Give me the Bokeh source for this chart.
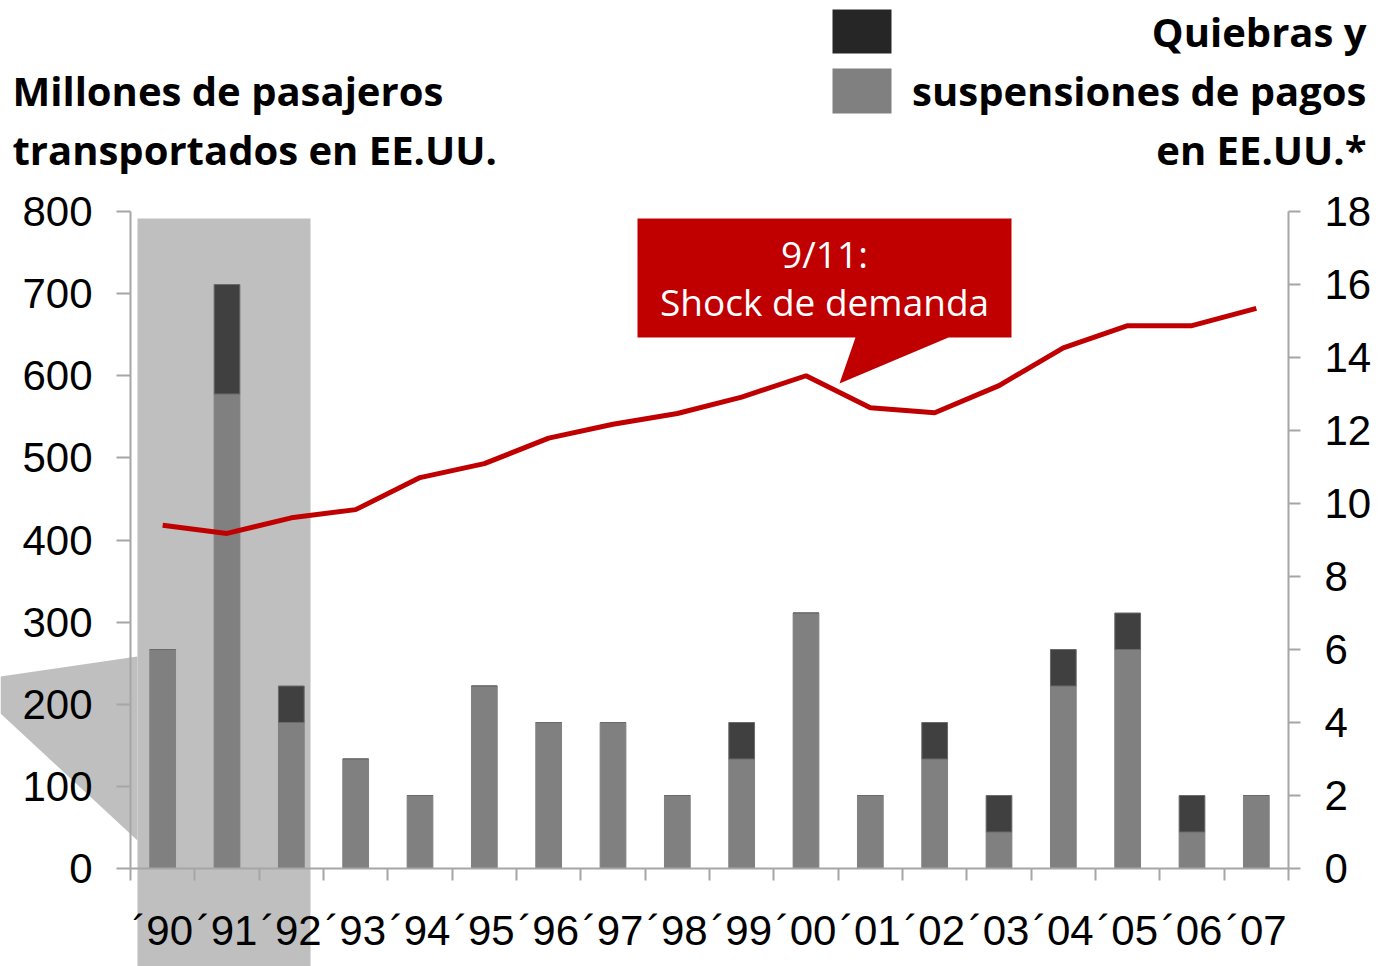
from bokeh.plotting import figure
from bokeh.models import (Range1d, LinearAxis, FixedTicker, BoxAnnotation,
                          PolyAnnotation, Label, ColumnDataSource)
from bokeh.embed import file_html
from bokeh.resources import INLINE

# ---- data ----
years = list(range(1990, 2008))
x_labels = ["´90", "´91", "´92", "´93", "´94", "´95", "´96", "´97", "´98",
            "´99", "´00", "´01", "´02", "´03", "´04", "´05", "´06", "´07"]
passengers = [418, 408, 427, 437, 476, 493, 524, 541, 554,
              574, 600, 561, 555, 588, 634, 661, 661, 682]
suspensiones = [6, 13, 4, 3, 2, 5, 4, 4, 2, 3, 7, 2, 3, 1, 5, 6, 1, 2]
quiebras = [0, 3, 1, 0, 0, 0, 0, 0, 0, 1, 0, 0, 1, 1, 1, 1, 1, 0]
left_ticks = list(range(0, 801, 100))
right_ticks = list(range(0, 19, 2))

AXIS = "#A6A6A6"
LIGHT = "#808080"
DARK = "#404040"
RED = "#C00000"
SHADE = "#BFBFBF"
TICKFONT = "Liberation Sans"
TXTFONT = "Open Sans"

W, H = 1384, 966
# plot area inside the canvas (pixels)
FX0, FX1, FY0, FY1 = 130, 1288, 211, 868
X0, X1 = 1989.5, 2007.5
L0, L1 = 0, 800
R0, R1 = 0, 18
xs = (FX1 - FX0) / (X1 - X0)
ls = (FY1 - FY0) / (L1 - L0)
rs = (FY1 - FY0) / (R1 - R0)

src = ColumnDataSource(dict(year=years, susp=suspensiones, quie=quiebras))

p = figure(width=W, height=H,
           x_range=Range1d(X0 - FX0 / xs, X1 + (W - FX1) / xs),
           y_range=Range1d(L0 - (H - FY1) / ls, L1 + FY0 / ls),
           output_backend="svg", toolbar_location=None,
           min_border=0, min_border_left=0, min_border_right=0,
           min_border_top=0, min_border_bottom=0)
p.outline_line_color = None
p.xgrid.visible = False
p.ygrid.visible = False
p.background_fill_color = "white"
p.border_fill_color = "white"

p.extra_y_ranges = {"right": Range1d(R0 - (H - FY1) / rs, R1 + FY0 / rs)}

# shaded highlight and its wedge
p.add_layout(BoxAnnotation(left=X0 + 7 / xs, right=X0 + 180 / xs, top=218, bottom=H,
                           top_units="canvas", bottom_units="canvas",
                           fill_color=SHADE, fill_alpha=1, line_color=None,
                           level="underlay"))
p.add_layout(PolyAnnotation(xs=[0, 137, 137, 0], ys=[676, 656, 840, 713],
                            xs_units="canvas", ys_units="canvas",
                            fill_color=SHADE, fill_alpha=1, line_color=None,
                            level="underlay"))

# bars
p.vbar_stack(["susp", "quie"], x="year", width=0.4, source=src,
             color=[LIGHT, DARK], line_color=[LIGHT, "#6a6a6a"], line_width=1,
             y_range_name="right")

# line
p.line(years, passengers, line_color=RED, line_width=5)

# axes
xa = p.xaxis[0]
xa.fixed_location = L0
xa.bounds = (X0, X1)
xa.ticker = FixedTicker(ticks=years, minor_ticks=[X0 + i for i in range(19)])
xa.major_label_overrides = {y: l for y, l in zip(years, x_labels)}
xa.major_tick_out = 0
xa.major_tick_in = 0
xa.minor_tick_out = 12
xa.minor_tick_in = 0
xa.minor_tick_line_color = AXIS
xa.minor_tick_line_width = 2
xa.axis_line_color = AXIS
xa.axis_line_width = 2
xa.major_label_text_font = TICKFONT
xa.major_label_text_font_size = "42px"
xa.major_label_text_color = "black"
xa.major_label_standoff = 26

ya = p.yaxis[0]
ya.fixed_location = X0
ya.bounds = (L0, L1)
ya.ticker = FixedTicker(ticks=left_ticks)
ya.major_tick_out = 14
ya.major_tick_in = 0
ya.minor_tick_out = 0
ya.minor_tick_in = 0
ya.major_tick_line_color = AXIS
ya.major_tick_line_width = 2
ya.axis_line_color = AXIS
ya.axis_line_width = 2
ya.major_label_text_font = TICKFONT
ya.major_label_text_font_size = "42px"
ya.major_label_text_color = "black"
ya.major_label_standoff = 24

ra = LinearAxis(y_range_name="right", ticker=FixedTicker(ticks=right_ticks))
ra.fixed_location = X1
ra.bounds = (R0, R1)
ra.major_tick_out = 12
ra.major_tick_in = 0
ra.minor_tick_out = 0
ra.minor_tick_in = 0
ra.major_tick_line_color = AXIS
ra.major_tick_line_width = 2
ra.axis_line_color = AXIS
ra.axis_line_width = 2
ra.major_label_text_font = TICKFONT
ra.major_label_text_font_size = "42px"
ra.major_label_text_color = "black"
ra.major_label_standoff = 24
p.add_layout(ra, "right")

# callout
p.add_layout(PolyAnnotation(xs=[637, 1011, 1011, 948, 839, 855, 637],
                            ys=[218, 218, 337, 337, 383, 337, 337],
                            xs_units="canvas", ys_units="canvas",
                            fill_color=RED, fill_alpha=1, line_color=None))
for txt, yy in [("9/11:", 253), ("Shock de demanda", 301)]:
    p.add_layout(Label(x=824, y=yy, x_units="canvas", y_units="canvas", text=txt,
                       text_font=TXTFONT, text_font_size="37px", text_color="white",
                       text_align="center", text_baseline="middle"))

# titles
for txt, yy in [("Millones de pasajeros", 90), ("transportados en EE.UU.", 149)]:
    p.add_layout(Label(x=12, y=yy, x_units="canvas", y_units="canvas", text=txt,
                       text_font=TXTFONT, text_font_size="40px", text_font_style="bold",
                       text_color="black", text_align="left", text_baseline="alphabetic"))

# legend
p.add_layout(BoxAnnotation(left=832, right=891, top=9, bottom=53,
                           left_units="canvas", right_units="canvas",
                           top_units="canvas", bottom_units="canvas",
                           fill_color="#262626", fill_alpha=1, line_color=None))
p.add_layout(BoxAnnotation(left=832, right=891, top=68, bottom=113,
                           left_units="canvas", right_units="canvas",
                           top_units="canvas", bottom_units="canvas",
                           fill_color=LIGHT, fill_alpha=1, line_color=None))
for txt, yy in [("Quiebras y", 31), ("suspensiones de pagos", 90), ("en EE.UU.*", 149)]:
    p.add_layout(Label(x=1366, y=yy, x_units="canvas", y_units="canvas", text=txt,
                       text_font=TXTFONT, text_font_size="40px", text_font_style="bold",
                       text_color="black", text_align="right", text_baseline="alphabetic"))

open("out.html", "w").write(file_html(p, INLINE))
